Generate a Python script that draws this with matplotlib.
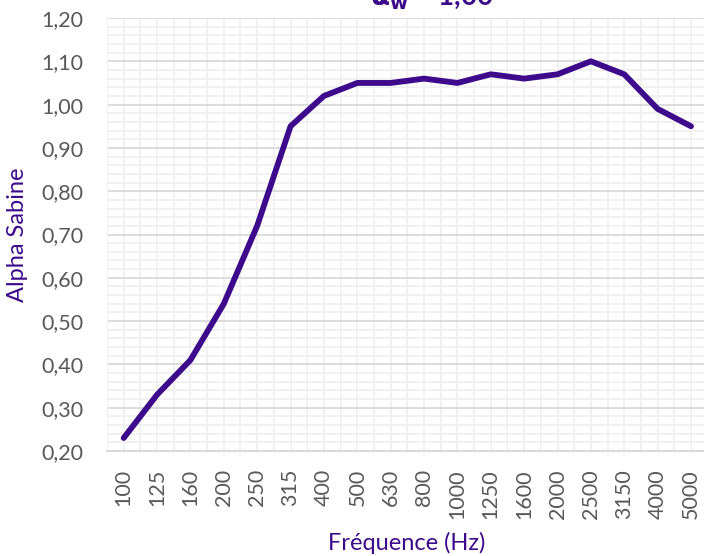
import matplotlib
matplotlib.use("Agg")
import matplotlib.pyplot as plt
from matplotlib.ticker import MultipleLocator, FixedLocator, FuncFormatter

frequencies = ["100", "125", "160", "200", "250", "315", "400", "500", "630", "800",
               "1000", "1250", "1600", "2000", "2500", "3150", "4000", "5000"]
alpha = [0.23, 0.33, 0.41, 0.54, 0.72, 0.95, 1.02, 1.05, 1.05, 1.06,
         1.05, 1.07, 1.06, 1.07, 1.10, 1.07, 0.99, 0.95]

plt.rcParams['font.family'] = ['Lato', 'DejaVu Sans']
purple = "#3d0a8c"
tickgray = "#595959"

fig = plt.figure(figsize=(7.04, 5.56), dpi=100)
ax = fig.add_axes([107/704, 1 - 451/556, (707.7 - 107)/704, (451 - 18)/556])

x = list(range(len(frequencies)))
ax.plot(x, alpha, color=purple, lw=4.2, solid_capstyle='round', solid_joinstyle='round', zorder=3)

ax.set_xlim(-0.5, len(frequencies) - 0.5)
ax.set_ylim(0.20, 1.20)

ax.yaxis.set_major_locator(MultipleLocator(0.1))
ax.yaxis.set_minor_locator(MultipleLocator(0.02))
ax.yaxis.set_major_formatter(FuncFormatter(lambda v, p: f"{v:.2f}".replace('.', ',')))
ax.xaxis.set_major_locator(FixedLocator(x))
ax.xaxis.set_minor_locator(FixedLocator([i - 0.5 for i in range(len(frequencies) + 1)]))
ax.set_xticklabels(frequencies, rotation=90)

ax.grid(which='major', axis='y', color='#d9d9d9', lw=1.3)
ax.grid(which='minor', axis='y', color='#f0f0f0', lw=1.3)
ax.grid(which='both', axis='x', color='#f0f0f0', lw=1.3)
ax.set_axisbelow(True)

for s in ['top', 'right']:
    ax.spines[s].set_visible(False)
ax.spines['left'].set_color('#f0f0f0')
ax.spines['bottom'].set_color('#d9d9d9')
ax.spines['bottom'].set_linewidth(1.5)

ax.tick_params(which='both', length=0)
ax.tick_params(axis='y', labelsize=15.5, labelcolor=tickgray, pad=17)
ax.tick_params(axis='x', labelsize=15.5, labelcolor=tickgray, pad=13)

ax.set_xlabel("Fréquence (Hz)", color=purple, fontsize=17)
ax.set_ylabel("Alpha Sabine", color=purple, fontsize=17)
ax.yaxis.set_label_coords((18 - 107) / (707.7 - 107), 0.5)
ax.yaxis.label.set_va('center')
ax.xaxis.set_label_coords((407 - 107) / (707.7 - 107), -(543 - 451) / (451 - 18))
ax.xaxis.label.set_va('center')

fig.text(432 / 704, 1 - 5 / 556, r"$\mathbf{\alpha_w}$ = 1,00", color=purple, fontsize=20,
         fontweight='bold', ha='center', va='baseline')

fig.savefig("out.png", dpi=100)
